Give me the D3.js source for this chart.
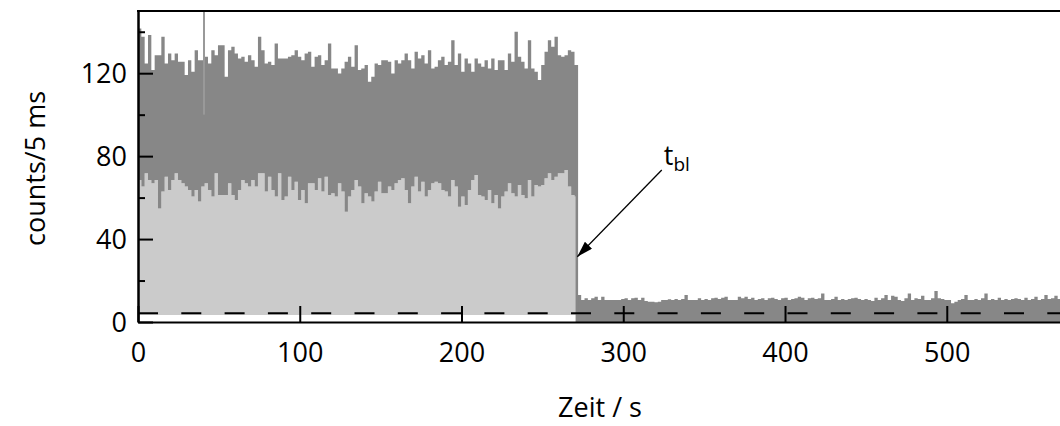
<!DOCTYPE html>
<html>
<head>
<meta charset="utf-8">
<script src="https://cdn.jsdelivr.net/npm/d3@7"></script>
<style>
  html, body { margin: 0; padding: 0; background: #fff; }
  svg { display: block; }
  text { font-family: "Open Sans", sans-serif; fill: #000; }
</style>
</head>
<body>
<div id="chart"></div>
<script>
// Fluorescence trace, counts per 5 ms bin, read off the picture as
// per-bin maxima / minima (bins of ~2 s)
const BIN_S = 2.06;

// bright phase (0 .. ~272 s): top of the noise band
const bandUpper = [
  141.6, 137.6, 124.7, 138.4, 121.5, 128.7, 128.7, 137.6, 124.7, 129.5, 126.3, 129.5, 125.5, 125.5, 119.1,
  126.3, 120.7, 131.1, 126.3, 126.3, 127.9, 124.7, 131.1, 128.7, 133.5, 133.5, 118.3, 131.1, 132.7, 129.5,
  127.1, 127.9, 125.5, 128.7, 126.3, 123.1, 137.6, 131.1, 124.7, 125.5, 123.9, 134.3, 127.1, 127.1,
  127.1, 127.9, 128.7, 131.1, 127.9, 126.3, 129.5, 130.3, 123.1, 127.9, 128.7, 123.9, 126.3, 134.3, 122.3,
  122.3, 119.9, 122.3, 125.5, 127.9, 123.1, 133.5, 121.5, 122.3, 123.9, 115.9, 118.3, 124.7, 123.9, 126.3,
  126.3, 125.5, 119.9, 126.3, 124.7, 126.3, 129.5, 126.3, 122.3, 130.3, 127.1, 128.7, 124.7, 131.1,
  122.3, 123.1, 126.3, 127.9, 123.9, 125.5, 135.9, 123.9, 129.5, 120.7, 127.1, 124.7, 120.7, 127.1, 124.7,
  123.1, 126.3, 122.3, 127.1, 121.5, 126.3, 126.3, 121.5, 129.5, 125.5, 140.0, 127.9, 125.5, 122.3, 135.9,
  122.3, 120.7, 116.7, 123.9, 130.3, 135.9, 132.7, 137.6, 128.7, 127.9, 128.7, 131.1, 130.3, 123.9
];
// bright phase: bottom of the noise band
const bandLower = [
  68.5, 65.3, 71.7, 68.5, 66.9, 68.5, 54.8, 62.9, 70.1, 63.7, 68.5, 71.7, 68.5, 66.9, 65.3,
  63.7, 60.5, 63.7, 58.1, 65.3, 66.9, 63.7, 60.5, 71.7, 61.3, 61.3, 61.3, 66.9, 61.3, 58.9,
  63.7, 68.5, 66.9, 65.3, 68.5, 65.3, 71.7, 71.7, 62.9, 70.1, 63.7, 60.5, 71.7, 58.9,
  60.5, 70.1, 63.7, 67.7, 58.9, 63.7, 57.3, 66.9, 66.9, 63.7, 69.3, 62.9, 70.1, 61.3, 62.1,
  60.5, 66.9, 62.9, 53.2, 60.5, 63.7, 68.5, 65.3, 57.3, 62.1, 60.5, 58.1, 62.9, 67.7, 62.1,
  62.1, 65.3, 63.7, 66.9, 68.5, 69.3, 63.7, 57.3, 65.3, 70.1, 62.9, 67.7, 60.5, 63.7,
  66.9, 67.7, 66.9, 63.7, 62.9, 60.5, 68.5, 65.3, 55.6, 60.5, 56.4, 63.7, 68.5, 70.9, 61.3,
  60.5, 58.9, 63.7, 57.3, 61.3, 54.8, 60.5, 62.9, 66.9, 62.1, 60.5, 66.1, 61.3, 59.7, 68.5,
  60.5, 66.1, 65.3, 66.1, 69.3, 71.7, 68.5, 70.1, 71.7, 71.7, 73.3, 65.3, 61.3, 60.5
];
// single tall photon bursts
const spikeTimes = [40.8];
const spikeValues = [152];

// after bleaching (~272 s .. 570 s): top of the background noise
const tailUpper = [
  13.0, 10.6, 11.4, 10.6, 11.4, 12.2, 10.6, 12.2, 10.6, 10.6, 10.6, 10.6, 10.6, 11.1, 11.4,
  10.6, 11.4, 11.7, 10.6, 11.7, 10.1, 9.8, 9.8, 9.5, 9.8, 10.6, 10.6, 11.0, 10.6, 11.1,
  10.6, 11.1, 13.0, 10.6, 10.6, 10.6, 11.4, 10.6, 11.1, 10.6, 11.4, 11.7, 11.1, 11.7, 12.2,
  10.6, 10.6, 10.6, 12.2, 11.4, 12.2, 11.1, 11.7, 10.6, 11.1, 11.4, 10.6, 11.4, 11.7, 11.1,
  10.6, 11.4, 11.7, 10.6, 11.1, 11.4, 12.2, 11.7, 10.6, 11.4, 11.7, 11.1, 11.4,
  13.8, 10.6, 10.6, 11.1, 12.2, 10.6, 11.1, 10.6, 11.1, 11.4, 11.7, 11.1, 10.6, 11.1, 10.6,
  10.1, 11.7, 10.6, 11.4, 13.0, 10.6, 12.7, 12.2, 10.6, 10.1, 11.4, 13.8, 10.6, 11.4, 11.1,
  12.7, 10.6, 10.6, 11.4, 14.9, 11.4, 11.1, 10.6, 10.6, 9.0, 9.8, 10.6, 11.1, 13.0, 10.6,
  10.6, 11.1, 10.6, 11.4, 13.8, 10.6, 11.1, 10.6, 11.7, 10.6, 11.1, 10.6, 11.1, 11.4, 11.1,
  10.6, 11.7, 10.6, 11.1, 12.2, 10.6, 11.1, 13.0, 11.1, 11.4, 12.7, 11.1, 11.7
];

const lightBase = 3.4;      // lower edge of the light fill
const backgroundLevel = 4.2; // dashed line

const xTicks = [0, 100, 200, 300, 400, 500];
const yTicks = [0, 40, 80, 120];
const yMinorTicks = [20, 60, 100, 140];

// annotation arrow t_bl, in data units: [t, counts]
const arrowFrom = [323.8, 73.3];
const arrowTo = [271.6, 31.5];

const width = 1060, height = 426;
const margin = { left: 138, top: 11, right: 0, bottom: 104 };

const svg = d3.select('#chart').append('svg')
  .attr('width', width)
  .attr('height', height);

const x = d3.scaleLinear().domain([0, 570]).range([margin.left, width - margin.right]);
const y = d3.scaleLinear().domain([0, 150]).range([height - margin.bottom, margin.top]);

svg.append('clipPath').attr('id', 'plot-clip')
  .append('rect')
  .attr('x', margin.left).attr('y', margin.top)
  .attr('width', width - margin.left - margin.right)
  .attr('height', height - margin.top - margin.bottom);

const plot = svg.append('g').attr('clip-path', 'url(#plot-clip)');

// bin points, with a closing point for the step curve
const bandPts = bandUpper.map((u, i) => ({ t: i * BIN_S, hi: u, lo: bandLower[i] }));
const stepTime = bandUpper.length * BIN_S;
bandPts.push({ t: stepTime, hi: bandUpper[bandUpper.length - 1], lo: bandLower[bandLower.length - 1] });

const tailPts = tailUpper.map((u, i) => ({ t: stepTime + i * BIN_S, hi: u }));
tailPts.push({ t: stepTime + tailUpper.length * BIN_S, hi: tailUpper[tailUpper.length - 1] });

// light fill under the band
plot.append('path')
  .datum(bandPts)
  .attr('fill', '#cbcbcb')
  .attr('d', d3.area().curve(d3.curveStepAfter)
    .x(d => x(d.t)).y0(y(lightBase)).y1(d => y(d.lo)));

// dark noise band
plot.append('path')
  .datum(bandPts)
  .attr('fill', '#878787')
  .attr('d', d3.area().curve(d3.curveStepAfter)
    .x(d => x(d.t)).y0(d => y(d.lo)).y1(d => y(d.hi)));

// bursts
plot.selectAll('.spike')
  .data(spikeTimes)
  .join('line')
  .attr('class', 'spike')
  .attr('x1', d => x(d)).attr('x2', d => x(d))
  .attr('y1', y(100))
  .attr('y2', (d, i) => y(spikeValues[i]))
  .attr('stroke', '#999')
  .attr('stroke-width', 2);

// background after bleaching
plot.append('path')
  .datum(tailPts)
  .attr('fill', '#878787')
  .attr('d', d3.area().curve(d3.curveStepAfter)
    .x(d => x(d.t)).y0(y(0)).y1(d => y(d.hi)));

// bleaching step
plot.append('line')
  .attr('x1', x(stepTime) - 1).attr('x2', x(stepTime) - 1)
  .attr('y1', y(0)).attr('y2', y(bandUpper[bandUpper.length - 1]))
  .attr('stroke', '#878787')
  .attr('stroke-width', 2.5);

// background level
plot.append('line')
  .attr('x1', x(0)).attr('x2', x(570))
  .attr('y1', y(backgroundLevel)).attr('y2', y(backgroundLevel))
  .attr('stroke', '#000')
  .attr('stroke-width', 2)
  .attr('stroke-dasharray', '20 23.3');

// axes
const fontSize = 27;
const xAxis = svg.append('g')
  .attr('transform', `translate(0,${y(0)})`)
  .call(d3.axisBottom(x).tickValues(xTicks).tickSize(-16).tickSizeOuter(0).tickFormat(d3.format('d')));
xAxis.selectAll('text').attr('y', 40).attr('dy', 0).style('font-size', fontSize + 'px');

const yAxis = svg.append('g')
  .attr('transform', `translate(${x(0)},0)`)
  .call(d3.axisLeft(y).tickValues(yTicks).tickSize(-15).tickSizeOuter(0).tickPadding(11));
yAxis.selectAll('text').attr('dy', '0.36em').style('font-size', fontSize + 'px');

const yMinor = svg.append('g')
  .attr('transform', `translate(${x(0)},0)`)
  .call(d3.axisLeft(y).tickValues(yMinorTicks).tickSize(-7).tickSizeOuter(0).tickFormat(''));

[xAxis, yAxis, yMinor].forEach(g => {
  g.selectAll('line').attr('stroke', '#000').attr('stroke-width', 2);
  g.select('.domain').attr('stroke', '#000').attr('stroke-width', 2);
  g.selectAll('text').attr('fill', '#000').style('font-family', '"Open Sans", sans-serif');
});

// top frame line
svg.append('line')
  .attr('x1', x(0) - 1).attr('x2', width)
  .attr('y1', y(150)).attr('y2', y(150))
  .attr('stroke', '#000').attr('stroke-width', 2);

// axis titles
svg.append('text')
  .attr('x', 600).attr('y', 417)
  .attr('text-anchor', 'middle')
  .style('font-size', fontSize + 'px')
  .text('Zeit / s');

svg.append('text')
  .attr('transform', `translate(45,${(y(0) + y(150)) / 2 + 2}) rotate(-90)`)
  .attr('text-anchor', 'middle')
  .style('font-size', fontSize + 'px')
  .text('counts/5 ms');

// annotation
svg.append('defs').append('marker')
  .attr('id', 'arrowhead')
  .attr('viewBox', '0 0 16 10')
  .attr('refX', 16).attr('refY', 5)
  .attr('markerWidth', 16).attr('markerHeight', 10)
  .attr('markerUnits', 'userSpaceOnUse')
  .attr('orient', 'auto')
  .append('path')
  .attr('d', 'M0,0 L16,5 L0,10 Z')
  .attr('fill', '#000');

svg.append('line')
  .attr('x1', x(arrowFrom[0])).attr('y1', y(arrowFrom[1]))
  .attr('x2', x(arrowTo[0])).attr('y2', y(arrowTo[1]))
  .attr('stroke', '#000')
  .attr('stroke-width', 1.3)
  .attr('marker-end', 'url(#arrowhead)');

const tbl = svg.append('text')
  .attr('x', x(arrowFrom[0]) + 2)
  .attr('y', y(arrowFrom[1]) - 5)
  .style('font-size', fontSize + 'px');
tbl.append('tspan').text('t');
tbl.append('tspan').attr('dy', 6).style('font-size', '19px').text('bl');
</script>
</body>
</html>
